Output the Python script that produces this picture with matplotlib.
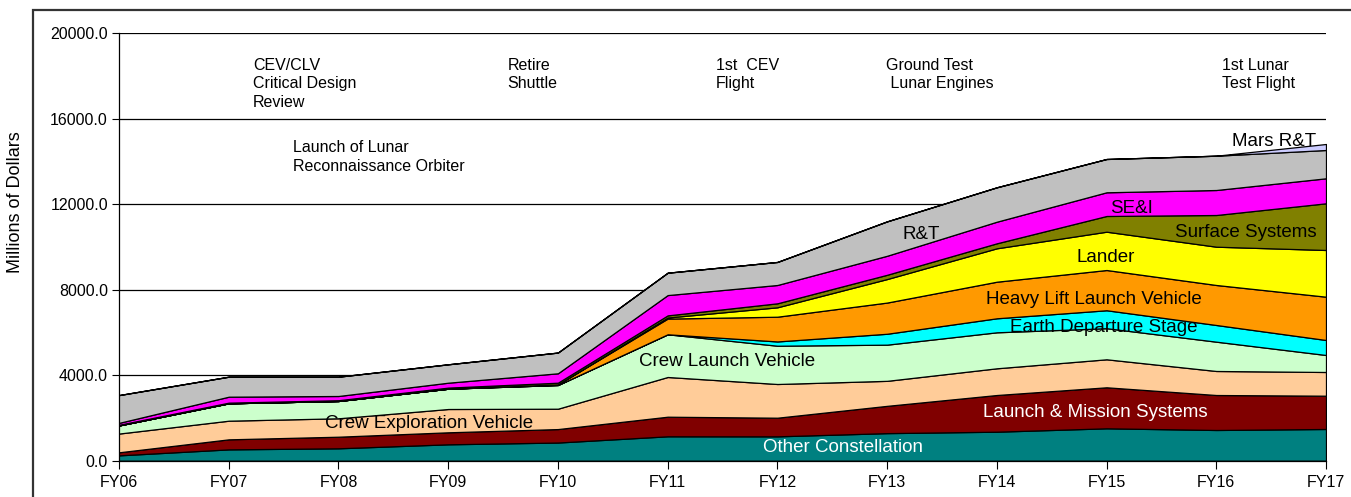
import matplotlib
matplotlib.use('Agg')
import matplotlib.pyplot as plt
from matplotlib.patches import Rectangle

plt.rcParams['font.family'] = ['Liberation Sans', 'DejaVu Sans']

# Années fiscales
years = ['FY06', 'FY07', 'FY08', 'FY09', 'FY10', 'FY11',
         'FY12', 'FY13', 'FY14', 'FY15', 'FY16', 'FY17']

# Budget par poste (millions de dollars)
other_constellation = [250, 530, 580, 767, 850, 1142, 1140, 1290, 1357, 1516, 1437, 1484]
launch_mission = [143, 470, 543, 562, 630, 917, 872, 1277, 1717, 1919, 1637, 1558]
crew_exploration = [877, 872, 861, 1090, 953, 1858, 1577, 1170, 1250, 1310, 1124, 1109]
crew_launch = [380, 814, 810, 950, 1109, 1998, 1791, 1693, 1684, 1455, 1371, 795]
earth_departure = [0, 0, 0, 0, 0, 0, 200, 510, 656, 840, 781, 702]
heavy_lift = [0, 0, 0, 0, 28, 735, 1158, 1460, 1712, 1883, 1872, 2026]
lander = [0, 0, 0, 0, 0, 50, 440, 1100, 1563, 1793, 1792, 2186]
surface_systems = [30, 30, 36, 51, 80, 100, 187, 200, 234, 735, 1483, 2185]
se_i = [90, 279, 198, 230, 440, 950, 857, 890, 1011, 1109, 1170, 1170]
r_t = [1300, 936, 903, 861, 970, 1047, 1078, 1610, 1610, 1558, 1605, 1324]
mars_r_t = [0, 0, 0, 0, 0, 0, 0, 0, 0, 0, 0, 281]

colors = ['#008080', '#800000', '#FFCC99', '#CCFFCC', '#00FFFF', '#FF9900',
          '#FFFF00', '#808000', '#FF00FF', '#C0C0C0', '#CCCCFF']

fig = plt.figure(figsize=(13.51, 4.97), dpi=100)
ax = fig.add_axes([119 / 1351, 1 - 460.7 / 497, (1326 - 119) / 1351, (460.7 - 33.3) / 497])

x = list(range(len(years)))
ax.stackplot(x, other_constellation, launch_mission, crew_exploration, crew_launch,
             earth_departure, heavy_lift, lander, surface_systems, se_i, r_t, mars_r_t,
             colors=colors, edgecolor='black', linewidth=0.9, zorder=3)

# Axes
ax.set_xlim(0, 11)
ax.set_ylim(0, 20000)
ax.set_yticks([0, 4000, 8000, 12000, 16000, 20000])
ax.set_yticklabels(['%.1f' % v for v in [0, 4000, 8000, 12000, 16000, 20000]], fontsize=11.5)
ax.set_xticks(x)
ax.set_xticklabels(years, fontsize=11.5)
ax.tick_params(axis='y', length=5, width=0.8, color='black', pad=3)
ax.tick_params(axis='x', length=6, width=0.8, color='black', pad=4)
ax.grid(axis='y', color='black', linewidth=0.9, zorder=1)
ax.set_axisbelow(True)
for s in ['top', 'right']:
    ax.spines[s].set_visible(False)
ax.spines['left'].set_linewidth(0.9)
ax.spines['bottom'].set_linewidth(0.9)
ax.spines['bottom'].set_zorder(5)
fig.text(16 / 1351, 1 - 202 / 497, 'Millions of Dollars', rotation=90,
         fontsize=13, ha='center', va='center')

# Étiquettes des couches
lab = dict(fontsize=13.5, ha='center', va='center', zorder=6)
ax.text(6.6, 620, 'Other Constellation', color='white', **lab)
ax.text(8.9, 2260, 'Launch & Mission Systems', color='white', **lab)
ax.text(2.83, 1720, 'Crew Exploration Vehicle', color='black', **lab)
ax.text(5.54, 4660, 'Crew Launch Vehicle', color='black', **lab)
ax.text(8.97, 6240, 'Earth Departure Stage', color='black', **lab)
ax.text(8.88, 7560, 'Heavy Lift Launch Vehicle', color='black', **lab)
ax.text(8.99, 9520, 'Lander', color='black', **lab)
ax.text(10.27, 10680, 'Surface Systems', color='black', **lab)
ax.text(9.23, 11800, 'SE&I', color='black', **lab)
ax.text(7.31, 10600, 'R&T', color='black', **lab)
ax.text(10.53, 14930, 'Mars R&T', color='black', **lab)

# Jalons du programme
ann = dict(fontsize=11.5, ha='left', va='top', linespacing=1.3, zorder=6)
ax.text(1.22, 18850, 'CEV/CLV\nCritical Design\nReview', **ann)
ax.text(1.59, 15000, 'Launch of Lunar\nReconnaissance Orbiter', **ann)
ax.text(3.54, 18850, 'Retire\nShuttle', **ann)
ax.text(5.44, 18850, '1st  CEV\nFlight', **ann)
ax.text(6.99, 18850, 'Ground Test\n Lunar Engines', **ann)
ax.text(10.05, 18850, '1st Lunar\nTest Flight', **ann)

# Cadre extérieur
fig.patches.append(Rectangle((33 / 1351, -0.2), 1.2, 0.98 + 0.2, transform=fig.transFigure,
                             fill=False, edgecolor='#333333', linewidth=1.6))

fig.savefig('out.png', dpi=100)
